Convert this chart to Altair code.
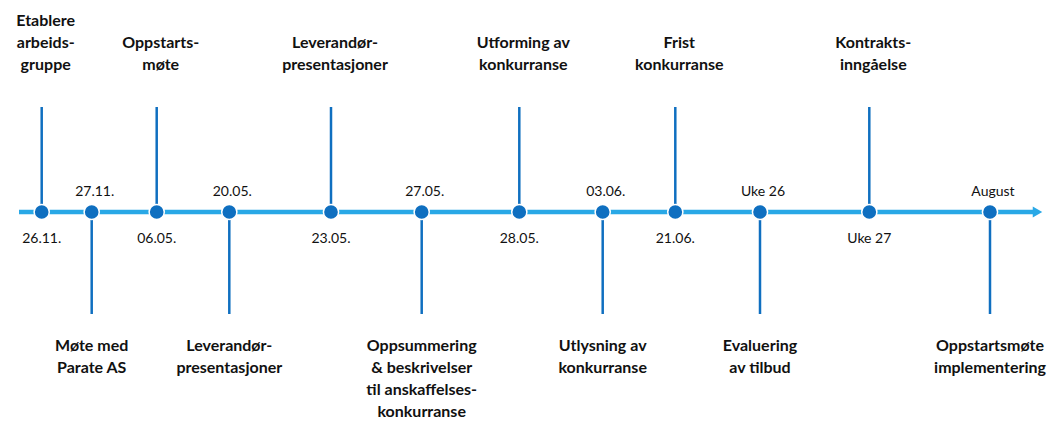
import altair as alt
import pandas as pd

# Event data
positions = [41.7, 91.7, 156.7, 229.3, 331, 421.7, 519.3, 602.7, 675.3, 760, 869.3, 990]
dates = ["26.11.", "27.11.", "06.05.", "20.05.", "23.05.", "27.05.", "28.05.",
         "03.06.", "21.06.", "Uke 26", "Uke 27", "August"]
labels = [
    "Etablere\narbeids-\ngruppe",
    "Møte med\nParate AS",
    "Oppstarts-\nmøte",
    "Leverandør-\npresentasjoner",
    "Leverandør-\npresentasjoner",
    "Oppsummering\n& beskrivelser\ntil anskaffelses-\nkonkurranse",
    "Utforming av\nkonkurranse",
    "Utlysning av\nkonkurranse",
    "Frist\nkonkurranse",
    "Evaluering\nav tilbud",
    "Kontrakts-\ninngåelse",
    "Oppstartsmøte\nimplementering",
]
sides = ["up", "down", "up", "down", "up", "down", "up", "down", "up", "down", "up", "down"]

df = pd.DataFrame({"pos": positions, "date": dates, "label": labels, "side": sides})
df["nlines"] = df["label"].str.count("\n") + 1
axis_df = pd.DataFrame({"start": [19], "end": [1033]})
arrow_df = pd.DataFrame({"tip": [1037.5]})

W, H = 1041, 412
OFF = 8
xs = alt.Scale(domain=[OFF, OFF + W], nice=False, zero=False)
ys = alt.Scale(domain=[OFF, OFF + H], range=[0, H], nice=False, zero=False)
X = lambda f: alt.X(f, type="quantitative", scale=xs, axis=None)
Y = lambda f: alt.Y(f, type="quantitative", scale=ys, axis=None)

LIGHT = "#29A8E6"
DARK = "#0F6FC0"
FONT = "Lato"
LH = 22
AXIS_Y = 212 - OFF

axis_line = alt.Chart(axis_df).mark_rule(color=LIGHT, strokeWidth=4.5).encode(
    x=X("start"), x2="end", y=alt.value(AXIS_Y)
)
arrow = alt.Chart(arrow_df).mark_point(
    shape="triangle-right", filled=True, color=LIGHT, size=120, opacity=1
).encode(x=X("tip"), y=alt.value(AXIS_Y))

up = df[df.side == "up"]
down = df[df.side == "down"]

stems_up = alt.Chart(up).mark_rule(color=DARK, strokeWidth=2.5).encode(
    x=X("pos"), y=alt.value(107 - OFF), y2=alt.value(AXIS_Y)
)
stems_down = alt.Chart(down).mark_rule(color=DARK, strokeWidth=2.5).encode(
    x=X("pos"), y=alt.value(AXIS_Y), y2=alt.value(314 - OFF)
)
dots = alt.Chart(df).mark_point(
    shape="circle", filled=True, fill=DARK, stroke="white", strokeWidth=1.5,
    size=230, opacity=1
).encode(x=X("pos"), y=alt.value(AXIS_Y))

date_below = alt.Chart(up).mark_text(
    font=FONT, fontSize=14, color="#111111", baseline="alphabetic", align="center"
).encode(x=X("pos"), y=alt.value(243 - OFF), text="date")
date_above = alt.Chart(down).mark_text(
    font=FONT, fontSize=14, color="#111111", baseline="alphabetic", align="center", dx=3
).encode(x=X("pos"), y=alt.value(196 - OFF), text="date")

# upper labels: bottom-aligned block; top computed from line count
label_up = alt.Chart(up).transform_calculate(
    top=f"{79} - datum.nlines * {LH}"
).mark_text(
    font=FONT, fontSize=16, fontWeight="bold", color="#111111", baseline="top",
    align="center", lineBreak="\n", lineHeight=LH, dx=4
).encode(x=X("pos"), y=Y("top"), text="label")
label_down = alt.Chart(down).mark_text(
    font=FONT, fontSize=16, fontWeight="bold", color="#111111", baseline="top",
    align="center", lineBreak="\n", lineHeight=LH
).encode(x=X("pos"), y=alt.value(338 - OFF), text="label")

chart = alt.layer(
    axis_line, arrow, stems_up, stems_down, dots,
    date_below, date_above, label_up, label_down
).properties(
    width=W, height=H, autosize=alt.AutoSizeParams(type="none"), padding=0,
    background="white"
).configure_view(stroke=None)

chart.save("out.html", embed_options={"renderer": "svg", "actions": False})
